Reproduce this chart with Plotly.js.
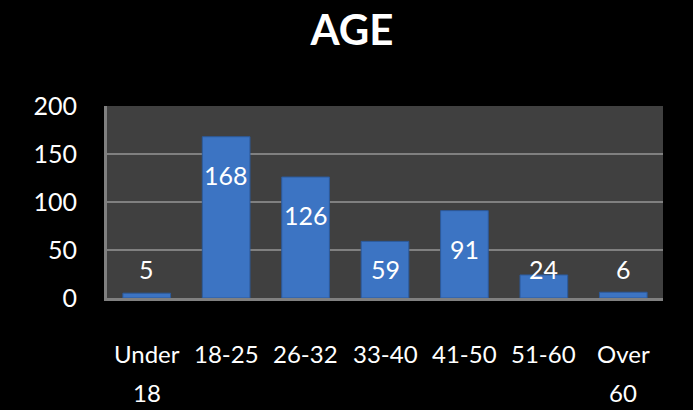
<!DOCTYPE html>
<html>
<head>
<meta charset="utf-8">
<script src="https://cdn.plot.ly/plotly-3.0.1.min.js"></script>
<style>
html,body{margin:0;padding:0;background:#000;}
#chart{width:693px;height:410px;}
</style>
</head>
<body>
<div id="chart"></div>
<script>
const categories = ["Under 18", "18-25", "26-32", "33-40", "41-50", "51-60", "Over 60"];
const tickLines = [["Under", "18"], ["18-25"], ["26-32"], ["33-40"], ["41-50"], ["51-60"], ["Over", "60"]];
const counts = [5, 168, 126, 59, 91, 24, 6];
const yTicks = [0, 50, 100, 150, 200];

const FONT = "Lato, 'Open Sans', sans-serif";

// label placement: inside near top for tall bars, otherwise at a fixed low level
const labelY = counts.map(v => Math.max(v - 40, 30));

const annotations = counts.map((v, i) => ({
  x: categories[i], y: labelY[i], xref: 'x', yref: 'y',
  text: String(v), showarrow: false,
  font: {family: FONT, size: 25, color: '#ffffff'},
  yanchor: 'middle', xanchor: 'center'
}));

// category labels (drawn as separate lines for wider line spacing)
tickLines.forEach((lines, i) => {
  lines.forEach((t, j) => {
    annotations.push({
      x: categories[i], y: 0, xref: 'x', yref: 'paper',
      text: t, showarrow: false,
      font: {family: FONT, size: 24, color: '#ffffff'},
      yanchor: 'middle', xanchor: 'center',
      yshift: -55 - 39 * j
    });
  });
});

const trace = {
  type: 'bar',
  x: categories,
  y: counts,
  width: 0.6,
  marker: {
    color: '#3c74c3',
    line: {color: '#2c5a9c', width: 1}
  },
  hoverinfo: 'skip'
};

const layout = {
  width: 693, height: 410,
  paper_bgcolor: '#000000',
  plot_bgcolor: '#404040',
  margin: {l: 107, r: 30, t: 106, b: 112, pad: 0},
  showlegend: false,
  title: {
    text: '<b>AGE</b>',
    font: {family: FONT, size: 42, color: '#ffffff'},
    x: 0.508, xanchor: 'center',
    y: 0.925, yanchor: 'middle'
  },
  xaxis: {
    type: 'category',
    showgrid: false,
    showline: true, linecolor: '#808080', linewidth: 3,
    ticks: '',
    showticklabels: false,
    fixedrange: true
  },
  yaxis: {
    range: [0, 200],
    tickvals: yTicks,
    ticktext: yTicks.map(String),
    showgrid: true, gridcolor: '#808080', gridwidth: 2,
    showline: true, linecolor: '#808080', linewidth: 3,
    zeroline: false,
    ticks: '',
    tickfont: {family: FONT, size: 25, color: '#ffffff'},
    ticklabelstandoff: 22,
    fixedrange: true
  },
  annotations: annotations
};

Plotly.newPlot('chart', [trace], layout, {displayModeBar: false, staticPlot: true});
</script>
</body>
</html>
